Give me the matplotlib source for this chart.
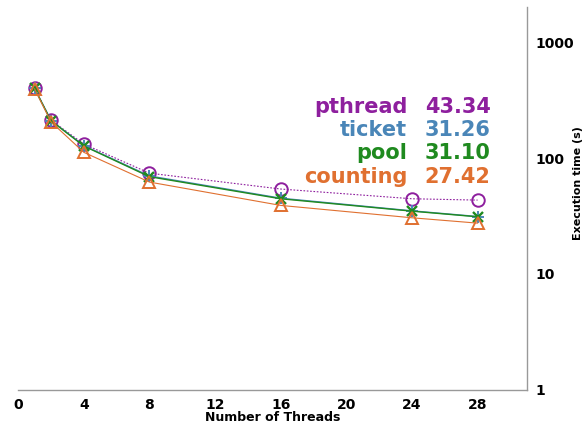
import matplotlib
matplotlib.use("Agg")
import matplotlib.pyplot as plt

threads = [1, 2, 4, 8, 16, 24, 28]
pthread = [400, 212, 132, 74, 54, 44.5, 43.34]
ticket = [400, 210, 128, 70, 45, 35, 31.26]
pool = [398, 210, 127, 69, 44.5, 34.8, 31.10]
counting = [395, 205, 112, 62, 39, 30.5, 27.42]

x_ticks = [0, 4, 8, 12, 16, 20, 24, 28]
y_ticks = [1, 10, 100, 1000]

c_pthread = "#8e1f9e"
c_ticket = "#4a86b8"
c_pool = "#1f8a1f"
c_counting = "#e07030"

fig = plt.figure(figsize=(5.86, 4.26), dpi=100)
ax = fig.add_axes([0.031, 0.085, 0.868, 0.898])

ax.plot(threads, pthread, color=c_pthread, lw=0.8, ls=(0, (1.5, 1.5)),
        marker="o", ms=9, mfc="none", mec=c_pthread, mew=1.4, label="pthread")
ax.plot(threads, ticket, color=c_ticket, lw=1.0, ls="-",
        marker="+", ms=8, mec=c_ticket, mew=1.4, label="ticket")
ax.plot(threads, pool, color=c_pool, lw=1.0, ls="-",
        marker="x", ms=7, mec=c_pool, mew=1.7, label="pool")
ax.plot(threads, counting, color=c_counting, lw=0.8, ls="-",
        marker="^", ms=9, mfc="none", mec=c_counting, mew=1.4, label="counting")

ax.set_yscale("log")
ax.set_xlim(0, 31)
ax.set_ylim(1, 2000)
ax.set_xticks(x_ticks)
ax.set_xticklabels([str(t) for t in x_ticks], fontweight="bold", fontsize=10)
ax.set_yticks(y_ticks)
ax.set_yticklabels([str(t) for t in y_ticks], fontweight="bold", fontsize=10)
ax.minorticks_off()
ax.yaxis.tick_right()
ax.yaxis.set_label_position("right")
ax.tick_params(axis="both", length=0, pad=6)

for side in ("top", "left"):
    ax.spines[side].set_visible(False)
for side in ("bottom", "right"):
    ax.spines[side].set_color("#999999")
    ax.spines[side].set_linewidth(1.0)

ax.set_xlabel("Number of Threads", fontweight="bold", fontsize=9, labelpad=-1)
ax.set_ylabel("Execution time (s)", fontweight="bold", fontsize=8,
              va="center", ha="center")
ax.yaxis.set_label_coords(1.1, 0.54)

names = ["pthread", "ticket", "pool", "counting"]
finals = [pthread[-1], ticket[-1], pool[-1], counting[-1]]
colors = [c_pthread, c_ticket, c_pool, c_counting]
row_y = [0.738, 0.679, 0.620, 0.556]
for name, val, col, yy in zip(names, finals, colors, row_y):
    ax.text(0.765, yy, name, transform=ax.transAxes, ha="right", va="center",
            color=col, fontweight="bold", fontsize=15)
    ax.text(0.929, yy, f"{val:.2f}", transform=ax.transAxes, ha="right",
            va="center", color=col, fontweight="bold", fontsize=15)

fig.savefig("out.png", dpi=100)
